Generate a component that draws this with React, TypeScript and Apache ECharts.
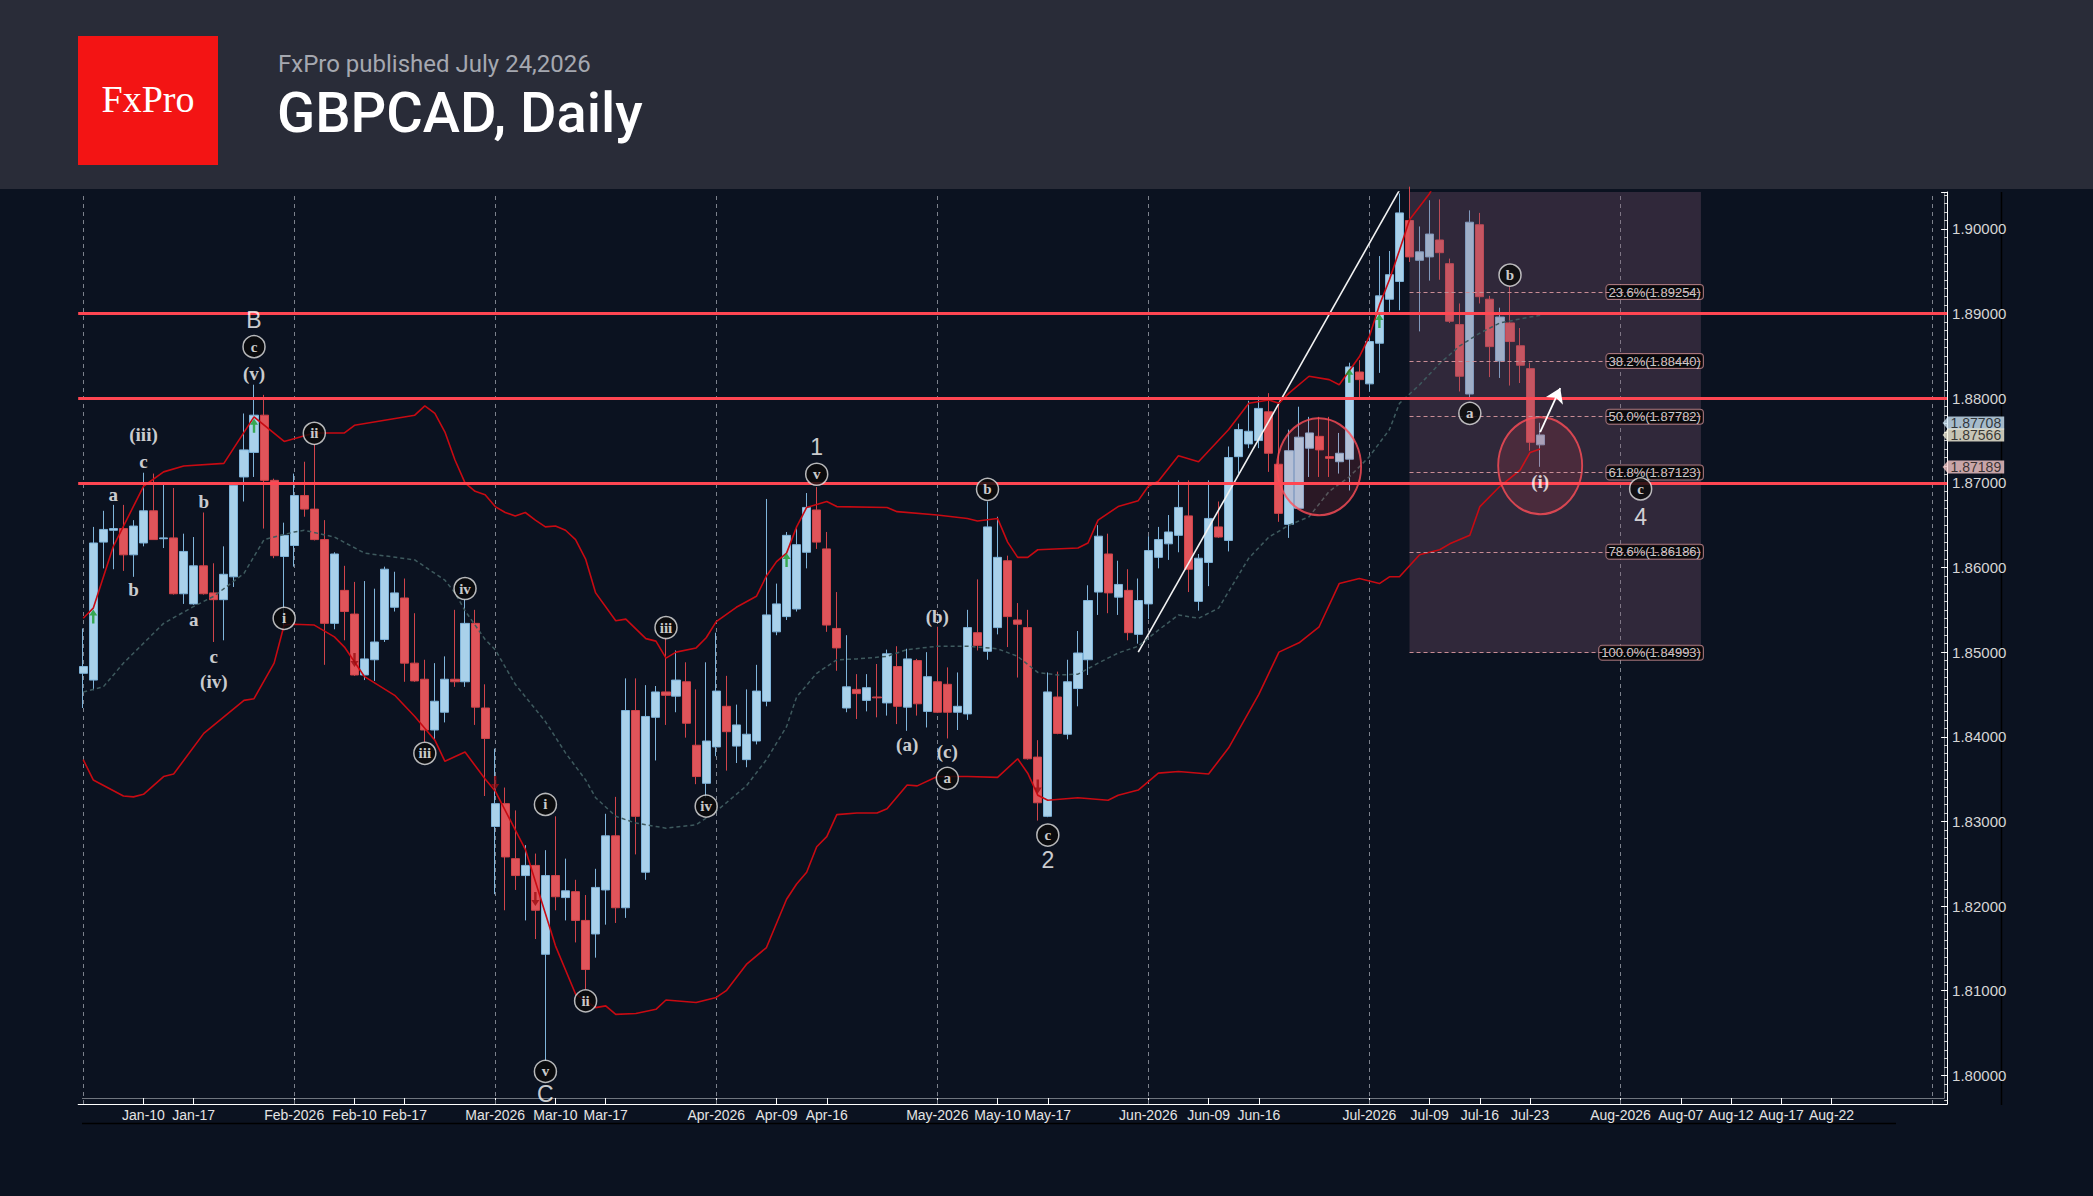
import React, { useEffect, useRef } from 'react';
import * as echarts from 'echarts';

// ---------- data ----------
const SLOT_COUNT = 186;
const categories: string[] = Array.from({ length: SLOT_COUNT }, (_, i) => String(i));

const opens = [
  1.8475, 1.8467, 1.8630, 1.8644, 1.8646, 1.8615, 1.8629, 1.8667, 1.8634, 1.8635,
  1.8569, 1.8557, 1.8602, 1.8570, 1.8562, 1.8589, 1.8707, 1.8736, 1.8780, 1.8703,
  1.8613, 1.8626, 1.8685, 1.8669, 1.8633, 1.8534, 1.8573, 1.8545, 1.8473, 1.8491,
  1.8515, 1.8553, 1.8564, 1.8487, 1.8468, 1.8408, 1.8429, 1.8468, 1.8465, 1.8534,
  1.8434, 1.8294, 1.8321, 1.8256, 1.8236, 1.8248, 1.8143, 1.8236, 1.8210, 1.8217,
  1.8183, 1.8167, 1.8219, 1.8283, 1.8198, 1.8431, 1.8240, 1.8423, 1.8453, 1.8448,
  1.8465, 1.8390, 1.8345, 1.8388, 1.8436, 1.8389, 1.8373, 1.8395, 1.8442, 1.8524,
  1.8542, 1.8551, 1.8618, 1.8668, 1.8622, 1.8528, 1.8434, 1.8456, 1.8443, 1.8447,
  1.8440, 1.8483, 1.8435, 1.8490, 1.8430, 1.8465, 1.8462, 1.8429, 1.8427, 1.8523,
  1.8501, 1.8529, 1.8608, 1.8538, 1.8529, 1.8376, 1.8306, 1.8447, 1.8403, 1.8457,
  1.8491, 1.8571, 1.8616, 1.8565, 1.8573, 1.8521, 1.8557, 1.8612, 1.8628, 1.8638,
  1.8661, 1.8560, 1.8606, 1.8648, 1.8632, 1.8731, 1.8746, 1.8750, 1.8784, 1.8722,
  1.8651, 1.8670, 1.8741, 1.8755, 1.8731, 1.8725, 1.8728, 1.8831, 1.8817, 1.8865,
  1.8917, 1.8938, 1.9010, 1.8963, 1.8967, 1.8987, 1.8959, 1.8887, 1.8805, 1.9005,
  1.8917, 1.8844, 1.8889, 1.8862, 1.8835, 1.8745,
];

const closes = [
  1.8483, 1.8629, 1.8645, 1.8646, 1.8615, 1.8649, 1.8667, 1.8633, 1.8635, 1.8569,
  1.8619, 1.8602, 1.8569, 1.8562, 1.8592, 1.8697, 1.8739, 1.8780, 1.8703, 1.8614,
  1.8638, 1.8685, 1.8669, 1.8633, 1.8534, 1.8616, 1.8548, 1.8473, 1.8492, 1.8512,
  1.8598, 1.8570, 1.8487, 1.8466, 1.8408, 1.8442, 1.8468, 1.8465, 1.8534, 1.8435,
  1.8398, 1.8321, 1.8258, 1.8236, 1.8248, 1.8195, 1.8236, 1.8211, 1.8218, 1.8183,
  1.8125, 1.8222, 1.8283, 1.8198, 1.8431, 1.8306, 1.8424, 1.8453, 1.8449, 1.8467,
  1.8416, 1.8353, 1.8395, 1.8454, 1.8406, 1.8414, 1.8403, 1.8454, 1.8544, 1.8557,
  1.8638, 1.8627, 1.8671, 1.8630, 1.8532, 1.8505, 1.8459, 1.8451, 1.8458, 1.8446,
  1.8498, 1.8436, 1.8492, 1.8439, 1.8471, 1.8429, 1.8429, 1.8436, 1.8529, 1.8508,
  1.8648, 1.8612, 1.8542, 1.8533, 1.8374, 1.8322, 1.8453, 1.8404, 1.8465, 1.8499,
  1.8561, 1.8637, 1.8570, 1.8580, 1.8523, 1.8561, 1.8620, 1.8633, 1.8642, 1.8671,
  1.8598, 1.8611, 1.8658, 1.8636, 1.8730, 1.8763, 1.8761, 1.8788, 1.8735, 1.8664,
  1.8738, 1.8754, 1.8759, 1.8739, 1.8729, 1.8735, 1.8837, 1.8822, 1.8867, 1.8921,
  1.8946, 1.9019, 1.8967, 1.8973, 1.8994, 1.8972, 1.8891, 1.8826, 1.9008, 1.8920,
  1.8861, 1.8896, 1.8867, 1.8839, 1.8748, 1.87566,
];

const highs = [
  1.8528, 1.8648, 1.8667, 1.8674, 1.8674, 1.8656, 1.8712, 1.8711, 1.8698, 1.8694,
  1.8640, 1.8636, 1.8665, 1.8605, 1.8625, 1.8698, 1.8782, 1.8816, 1.8804, 1.8705,
  1.8653, 1.8711, 1.8725, 1.8746, 1.8656, 1.8618, 1.8602, 1.8583, 1.8584, 1.8575,
  1.8601, 1.8595, 1.8587, 1.8546, 1.8491, 1.8487, 1.8495, 1.8550, 1.8562, 1.8550,
  1.8462, 1.8386, 1.8340, 1.8313, 1.8272, 1.8262, 1.8266, 1.8306, 1.8256, 1.8231,
  1.8213, 1.8244, 1.8309, 1.8329, 1.8469, 1.8469, 1.8461, 1.8460, 1.8517, 1.8502,
  1.8488, 1.8456, 1.8488, 1.8523, 1.8472, 1.8438, 1.8456, 1.8485, 1.8681, 1.8581,
  1.8642, 1.8648, 1.8688, 1.8695, 1.8642, 1.8571, 1.8520, 1.8474, 1.8474, 1.8486,
  1.8503, 1.8507, 1.8504, 1.8492, 1.8500, 1.8530, 1.8482, 1.8476, 1.8550, 1.8586,
  1.8678, 1.8660, 1.8614, 1.8558, 1.8550, 1.8396, 1.8476, 1.8477, 1.8491, 1.8525,
  1.8579, 1.8650, 1.8640, 1.8608, 1.8598, 1.8587, 1.8637, 1.8648, 1.8662, 1.8703,
  1.8703, 1.8616, 1.8703, 1.8678, 1.8743, 1.8770, 1.8797, 1.8802, 1.8806, 1.8794,
  1.8763, 1.8790, 1.8778, 1.8778, 1.8778, 1.8759, 1.8842, 1.8845, 1.8881, 1.8968,
  1.8974, 1.9042, 1.9050, 1.9003, 1.9034, 1.9035, 1.8965, 1.8912, 1.9022, 1.9019,
  1.8921, 1.8907, 1.8932, 1.8883, 1.8842, 1.8771,
];

const lows = [
  1.8434, 1.8455, 1.8599, 1.8598, 1.8596, 1.8589, 1.8625, 1.8633, 1.8623, 1.8568,
  1.8557, 1.8556, 1.8568, 1.8512, 1.8514, 1.8577, 1.8678, 1.8707, 1.8646, 1.8611,
  1.8528, 1.8601, 1.8660, 1.8632, 1.8485, 1.8527, 1.8514, 1.8472, 1.8467, 1.8466,
  1.8512, 1.8548, 1.8465, 1.8465, 1.8394, 1.8397, 1.8417, 1.8459, 1.8459, 1.8414,
  1.8330, 1.8214, 1.8195, 1.8219, 1.8183, 1.8161, 1.8017, 1.8195, 1.8183, 1.8157,
  1.8102, 1.8139, 1.8178, 1.8180, 1.8186, 1.8261, 1.8231, 1.8372, 1.8414, 1.8429,
  1.8399, 1.8344, 1.8328, 1.8377, 1.8360, 1.8369, 1.8364, 1.8391, 1.8436, 1.8520,
  1.8538, 1.8548, 1.8599, 1.8622, 1.8524, 1.8478, 1.8429, 1.8421, 1.8430, 1.8423,
  1.8425, 1.8415, 1.8407, 1.8425, 1.8411, 1.8428, 1.8398, 1.8408, 1.8420, 1.8502,
  1.8491, 1.8521, 1.8506, 1.8470, 1.8373, 1.8301, 1.8305, 1.8403, 1.8397, 1.8436,
  1.8473, 1.8544, 1.8546, 1.8544, 1.8514, 1.8510, 1.8539, 1.8599, 1.8609, 1.8618,
  1.8571, 1.8549, 1.8578, 1.8635, 1.8619, 1.8711, 1.8741, 1.8741, 1.8713, 1.8654,
  1.8635, 1.8669, 1.8707, 1.8707, 1.8707, 1.8711, 1.8691, 1.8798, 1.8808, 1.8830,
  1.8902, 1.8904, 1.8961, 1.8879, 1.8939, 1.8940, 1.8889, 1.8808, 1.8798, 1.8912,
  1.8825, 1.8824, 1.8815, 1.8818, 1.8738, 1.8719,
];

const tickSlots = [6, 11, 21, 27, 32, 41, 47, 52, 63, 69, 74, 85, 91, 96, 106, 112, 117, 128, 134, 139, 144, 153, 159, 164, 169, 174];
const tickLabels = ['Jan-10', 'Jan-17', 'Feb-2026', 'Feb-10', 'Feb-17', 'Mar-2026', 'Mar-10', 'Mar-17', 'Apr-2026', 'Apr-09', 'Apr-16', 'May-2026', 'May-10', 'May-17', 'Jun-2026', 'Jun-09', 'Jun-16', 'Jul-2026', 'Jul-09', 'Jul-16', 'Jul-23', 'Aug-2026', 'Aug-07', 'Aug-12', 'Aug-17', 'Aug-22'];
const separatorSlots = [-0.12, 21, 41, 63, 85, 106, 128, 153, 184];

// Bollinger bands: [slot, value]
const upperBand: [number, number][] = [
  [0, 1.8540], [1, 1.8552], [3, 1.8625], [6, 1.8696], [8, 1.8713], [10, 1.8720], [14, 1.8723], [17, 1.8778], [20, 1.8749], [23, 1.8759],
  [26, 1.8759], [27, 1.8768], [33, 1.8780], [34, 1.8791], [35, 1.8782], [36, 1.8760], [37, 1.8727], [38, 1.8700], [39, 1.8690], [40, 1.8686],
  [41, 1.8672], [42, 1.8665], [43, 1.8661], [44, 1.8665], [45, 1.8656], [46, 1.8648], [47, 1.8649], [48, 1.8644], [49, 1.8633], [50, 1.8610],
  [51, 1.8570], [53, 1.8537], [54, 1.8539], [56, 1.8516], [57, 1.8513], [58, 1.8493], [59, 1.8500], [61, 1.8505], [62, 1.8517], [63, 1.8536],
  [65, 1.8553], [67, 1.8566], [68, 1.8590], [69, 1.8607], [70, 1.8617], [71, 1.8648], [72, 1.8671], [74, 1.8678], [75, 1.8672], [80, 1.8671],
  [81, 1.8666], [85, 1.8662], [88, 1.8658], [89, 1.8655], [91, 1.8658], [92, 1.8630], [93, 1.8612], [94, 1.8612], [95, 1.8621], [99, 1.8623],
  [100, 1.8629], [101, 1.8656], [103, 1.8672], [105, 1.8679], [106, 1.8696], [107, 1.8702], [109, 1.8732], [111, 1.8725], [114, 1.8763], [116, 1.8794],
  [118, 1.8798], [119, 1.8794], [120, 1.8806], [122, 1.8826], [124, 1.8822], [125, 1.8816], [127, 1.8849], [128, 1.8873], [129, 1.8910], [130, 1.8940],
  [131, 1.8975], [132, 1.9011], [134, 1.9042], [135, 1.9065],
];
const middleBand: [number, number][] = [
  [0, 1.8453], [2, 1.8459], [4, 1.8487], [8, 1.8534], [11, 1.8554], [13, 1.8566], [16, 1.8593], [18, 1.8633], [21, 1.8642], [22, 1.8644],
  [25, 1.8636], [28, 1.8617], [33, 1.8609], [36, 1.8585], [37, 1.8570], [38, 1.8549], [40, 1.8515], [41, 1.8503], [43, 1.8462], [46, 1.8418],
  [48, 1.8381], [50, 1.8349], [51, 1.8328], [53, 1.8306], [55, 1.8298], [57, 1.8294], [58, 1.8292], [61, 1.8296], [63, 1.8312], [66, 1.8342],
  [68, 1.8373], [70, 1.8412], [71, 1.8447], [73, 1.8475], [75, 1.8491], [77, 1.8492], [80, 1.8495], [82, 1.8503], [85, 1.8507], [88, 1.8507],
  [91, 1.8504], [93, 1.8495], [95, 1.8476], [97, 1.8473], [99, 1.8474], [101, 1.8487], [103, 1.8499], [105, 1.8507], [107, 1.8526], [109, 1.8544],
  [111, 1.8540], [113, 1.8552], [116, 1.8611], [118, 1.8636], [120, 1.8650], [122, 1.8660], [124, 1.8690], [126, 1.8707], [128, 1.8731], [130, 1.8763],
  [131, 1.8794], [133, 1.8816], [135, 1.8841], [137, 1.8862], [139, 1.8877], [141, 1.8889], [144, 1.8896], [145, 1.8898],
];
const lowerBand: [number, number][] = [
  [0, 1.8373], [1, 1.8349], [4, 1.8330], [5, 1.8329], [6, 1.8332], [8, 1.8353], [9, 1.8356], [12, 1.8404], [16, 1.8443], [17, 1.8445],
  [19, 1.8487], [20, 1.8532], [21, 1.8533], [23, 1.8532], [25, 1.8518], [26, 1.8506], [28, 1.8471], [31, 1.8449], [33, 1.8424], [35, 1.8396],
  [36, 1.8371], [38, 1.8382], [40, 1.8350], [41, 1.8336], [44, 1.8267], [47, 1.8153], [49, 1.8096], [51, 1.8080], [52, 1.8082], [53, 1.8072],
  [55, 1.8073], [57, 1.8078], [58, 1.8089], [61, 1.8086], [63, 1.8092], [64, 1.8100], [66, 1.8131], [68, 1.8151], [70, 1.8208], [71, 1.8226],
  [72, 1.8240], [73, 1.8270], [74, 1.8282], [75, 1.8308], [77, 1.8310], [79, 1.8310], [80, 1.8315], [82, 1.8343], [83, 1.8342], [85, 1.8353],
  [88, 1.8353], [91, 1.8352], [93, 1.8374], [94, 1.8357], [95, 1.8331], [96, 1.8325], [99, 1.8328], [102, 1.8325], [103, 1.8331], [105, 1.8337],
  [107, 1.8357], [109, 1.8359], [112, 1.8356], [114, 1.8387], [117, 1.8450], [119, 1.8500], [121, 1.8511], [123, 1.8530], [125, 1.8581], [127, 1.8587],
  [129, 1.8581], [130, 1.8589], [131, 1.8589], [133, 1.8615], [135, 1.8621], [136, 1.8628], [138, 1.8638], [139, 1.8672], [141, 1.8696], [143, 1.8715],
  [144, 1.8736], [145, 1.8740],
];

const levelLines = [1.8898, 1.8807, 1.8722];

const fibStart = 131.75;
const fibEnd = 161.2;
const fibTop = 1.90437;
const fibLevels = [1.89254, 1.88440, 1.87782, 1.87123, 1.86186, 1.84993];
const fibNames = ['23.6%', '38.2%', '50.0%', '61.8%', '78.6%', '100.0%'];

const trendLine: [number, number][] = [[105, 1.8500], [131.2, 1.9046]];
const projectionArrow: [number, number][] = [[145, 1.8760], [146.6, 1.8812]];

const waveLabels: [number, number, string][] = [
  [17, 1.88295, '(v)'], [6, 1.87566, '(iii)'], [6, 1.87250, 'c'], [3, 1.86857, 'a'], [5, 1.85743, 'b'],
  [12, 1.86778, 'b'], [11, 1.85388, 'a'], [13, 1.84954, 'c'], [13, 1.84651, '(iv)'], [85, 1.85427, '(b)'],
  [82, 1.83903, '(a)'], [86, 1.83824, '(c)'], [145, 1.87014, '(i)'],
];
const circledLabels: [number, number, string][] = [
  [17, 1.88609, 'c'], [23, 1.87586, 'ii'], [20, 1.85400, 'i'], [38, 1.85752, 'iv'], [34, 1.83805, 'iii'],
  [46, 1.83200, 'i'], [50, 1.80880, 'ii'], [46, 1.80046, 'v'], [58, 1.85291, 'iii'], [62, 1.83180, 'iv'],
  [73, 1.87102, 'v'], [90, 1.86924, 'b'], [86, 1.83509, 'a'], [96, 1.82839, 'c'], [138, 1.87822, 'a'],
  [142, 1.89456, 'b'], [154.6, 1.86928, 'c'],
];
const degreeLabels: [number, number, string][] = [
  [17, 1.8892, 'B'], [73, 1.87428, '1'], [96, 1.82544, '2'], [154.6, 1.86601, '4'], [46, 1.79781, 'C'],
];
const upSignals: [number, number][] = [[1, 1.8542], [17, 1.87675], [70, 1.86089], [126, 1.88265], [129, 1.88913]];
const downSignals: [number, number][] = [[27, 1.84907], [41, 1.83454], [45, 1.82083], [95, 1.83413]];
const zones: [number, number][] = [[123.43, 1.87191], [144.55, 1.87203]];

const priceTags: [number, string][] = [[1.87708, '#cde6f6'], [1.87566, '#f6f2dc'], [1.87189, '#f7caca']];

// ---------- helpers ----------
const NARROW = "'Liberation Sans Narrow', 'Liberation Sans', Arial, sans-serif";
const SERIF = "'Liberation Serif', 'Times New Roman', serif";

function toSlots(points: [number, number][]) {
  const arr: (number | null)[] = new Array(SLOT_COUNT).fill(null);
  points.forEach(([s, v]) => { arr[s] = v; });
  return arr;
}

function buildOption(): any {
  const candleData = opens.map((o, i) => [o, closes[i], lows[i], highs[i]]);
  const tickMap: Record<number, string> = {};
  tickSlots.forEach((s, i) => { tickMap[s] = tickLabels[i]; });
  const showTick = (idx: number) => tickMap[idx] !== undefined;

  const GRID_LEFT = 78.18;
  const GRID_WIDTH = 1868.93;

  return {
    animation: false,
    backgroundColor: '#0b1220',
    grid: { left: GRID_LEFT, top: 192, width: GRID_WIDTH, height: 912, containLabel: false, outerBoundsMode: 'none' },
    xAxis: {
      type: 'category',
      data: categories,
      boundaryGap: true,
      axisLine: { show: true, lineStyle: { color: '#ffffff', width: 1 } },
      axisTick: { show: true, alignWithLabel: true, inside: true, length: 6, interval: showTick, lineStyle: { color: '#ffffff' } },
      axisLabel: {
        interval: showTick,
        formatter: (v: string) => tickMap[Number(v)] ?? '',
        color: '#e4e4e4', fontFamily: NARROW, fontSize: 14, margin: 4,
      },
      splitLine: { show: false },
    },
    yAxis: {
      type: 'value',
      position: 'right',
      min: 1.79661,
      max: fibTop,
      splitNumber: 10,
      axisLine: { show: true, lineStyle: { color: '#ffffff', width: 1 } },
      axisTick: { show: true, inside: true, length: 6, lineStyle: { color: '#ffffff' } },
      minorTick: { show: true, splitNumber: 10, length: 3, lineStyle: { color: '#cfcfcf' } },
      splitLine: { show: false },
      axisLabel: {
        showMinLabel: false, showMaxLabel: false,
        formatter: (v: number) => (Math.abs(v * 100 - Math.round(v * 100)) < 1e-6 ? v.toFixed(5) : ''),
        color: '#d6d6d6', fontFamily: NARROW, fontSize: 15, margin: 5,
      },
    },
    series: [
      {
        type: 'candlestick',
        name: 'GBPCAD',
        data: candleData,
        barWidth: 8.6,
        z: 2,
        clip: true,
        itemStyle: { color: '#a9d1ea', color0: '#e0545a', borderColor: '#7fb4da', borderColor0: '#d0444a', borderWidth: 1 },
        markLine: {
          silent: true, symbol: ['none', 'none'], z: 1, label: { show: false },
          lineStyle: { color: '#7c818c', type: [4, 4], width: 1 },
          data: separatorSlots.map((s) => ({ xAxis: s })),
        },
      },
      {
        type: 'line', name: 'upper', data: toSlots(upperBand), connectNulls: true, showSymbol: false, symbol: 'none',
        lineStyle: { color: '#c80a12', width: 1.6 }, z: 3, clip: true,
        markLine: {
          silent: true, symbol: ['none', 'none'], label: { show: false },
          lineStyle: { color: '#ff4652', width: 3, type: 'solid' },
          data: levelLines.map((v) => ({ yAxis: v })),
        },
      },
      {
        type: 'line', name: 'middle', data: toSlots(middleBand), connectNulls: true, showSymbol: false, symbol: 'none',
        lineStyle: { color: '#3e5a5e', width: 1.5, type: [4, 3] }, z: 3, clip: true,
      },
      {
        type: 'line', name: 'lower', data: toSlots(lowerBand), connectNulls: true, showSymbol: false, symbol: 'none',
        lineStyle: { color: '#c80a12', width: 1.6 }, z: 3, clip: true,
      },
      {
        type: 'scatter', name: 'fib', z: 3, symbolSize: 0, silent: true,
        data: fibLevels.map((l, i) => ({ value: [fibEnd, l], name: `${fibNames[i]}(${l.toFixed(5)})` })),
        label: {
          show: true, position: 'left', distance: -2, formatter: '{b}', color: '#ffffff', fontFamily: NARROW, fontSize: 13,
          backgroundColor: '#000000', borderColor: '#c78a8f', borderWidth: 1, borderRadius: 3, padding: [1, 2, 0, 2],
        },
        markArea: {
          silent: true, z: 3,
          itemStyle: { color: 'rgba(135, 92, 118, 0.30)' },
          data: [[{ coord: [fibStart, fibTop] }, { coord: [fibEnd, fibLevels[fibLevels.length - 1]] }]],
        },
        markLine: {
          silent: true, symbol: ['none', 'none'], label: { show: false },
          lineStyle: { color: '#c98d95', type: [4, 3], width: 1 },
          data: fibLevels.map((l) => [{ coord: [fibStart, l] }, { coord: [fibEnd, l] }]),
        },
      },
      {
        type: 'lines', name: 'trend', coordinateSystem: 'cartesian2d', z: 3, silent: true, clip: true,
        lineStyle: { color: '#f2f2f2', width: 1.6, opacity: 1 },
        data: [{ coords: trendLine }],
      },
      {
        type: 'lines', name: 'projection', coordinateSystem: 'cartesian2d', z: 5, silent: true,
        symbol: ['none', 'arrow'], symbolSize: 14,
        lineStyle: { color: '#ffffff', width: 1.8, opacity: 1 },
        data: [{ coords: projectionArrow }],
      },
      {
        type: 'scatter', name: 'zones', z: 4, silent: true, symbol: 'circle', symbolSize: [84, 97],
        itemStyle: { color: 'rgba(255, 70, 80, 0.16)', borderColor: '#ff4d57', borderWidth: 2 },
        data: zones,
      },
      {
        type: 'scatter', name: 'up', z: 5, silent: true,
        symbol: 'path://M5,0 L10,6 L6.5,6 L6.5,14 L3.5,14 L3.5,6 L0,6 Z', symbolSize: [8, 14],
        itemStyle: { color: '#1a9e2c' },
        data: upSignals,
      },
      {
        type: 'scatter', name: 'down', z: 5, silent: true,
        symbol: 'path://M3.5,0 L6.5,0 L6.5,8 L10,8 L5,14 L0,8 L3.5,8 Z', symbolSize: [8, 14],
        itemStyle: { color: '#9a0d12' },
        data: downSignals,
      },
      {
        type: 'scatter', name: 'waves', z: 6, silent: true, symbolSize: 1, itemStyle: { color: 'rgba(0,0,0,0)' },
        data: waveLabels.map(([s, p, t]) => ({ value: [s, p], name: t })),
        label: { show: true, position: 'inside', formatter: '{b}', color: '#ffffff', fontFamily: SERIF, fontWeight: 'bold', fontSize: 19 },
      },
      {
        type: 'scatter', name: 'circled', z: 6, silent: true, symbol: 'circle', symbolSize: 22,
        itemStyle: { color: '#0a0a0a', borderColor: '#e2e2e2', borderWidth: 1.5 },
        data: circledLabels.map(([s, p, t]) => ({ value: [s, p], name: t })),
        label: { show: true, position: 'inside', formatter: '{b}', color: '#ffffff', fontFamily: SERIF, fontWeight: 'bold', fontSize: 15 },
      },
      {
        type: 'scatter', name: 'degree', z: 6, silent: true, symbolSize: 1, itemStyle: { color: 'rgba(0,0,0,0)' },
        data: degreeLabels.map(([s, p, t]) => ({ value: [s, p], name: t })),
        label: { show: true, position: 'inside', formatter: '{b}', color: '#ffffff', fontFamily: NARROW, fontSize: 23 },
      },
      {
        type: 'scatter', name: 'tags', z: 7, silent: true,
        symbol: 'path://M0,5 L5,0 L5,10 Z', symbolSize: [5, 12], symbolOffset: [3, 0],
        data: priceTags.map(([p, c]) => ({
          value: [185.2, p],
          itemStyle: { color: c },
          label: { backgroundColor: c },
        })),
        label: {
          show: true, position: 'right', distance: 0,
          formatter: (prm: any) => prm.value[1].toFixed(5),
          color: '#111111', fontFamily: NARROW, fontSize: 14, padding: [0, 3, 0, 3], lineHeight: 13,
        },
      },
    ],
    graphic: [
      { type: 'rect', silent: true, shape: { x: 0, y: 0, width: 2093, height: 189 }, style: { fill: '#292c38' } },
      { type: 'rect', silent: true, shape: { x: 78, y: 36, width: 140, height: 129 }, style: { fill: '#f31414' } },
      { type: 'text', silent: true, x: 148, y: 99, style: { text: 'FxPro', fill: '#ffffff', fontSize: 38, fontFamily: SERIF, align: 'center', verticalAlign: 'middle' } },
      { type: 'text', silent: true, x: 278, y: 64, style: { text: 'FxPro published July 24,2026', fill: '#a5a8b0', fontSize: 24, fontFamily: 'Roboto', align: 'left', verticalAlign: 'middle' } },
      { type: 'text', silent: true, x: 277, y: 113, style: { text: 'GBPCAD, Daily', fill: '#ffffff', fontSize: 56, fontWeight: 500, fontFamily: 'Roboto', align: 'left', verticalAlign: 'middle' } },
      { type: 'line', silent: true, shape: { x1: 1944.5, y1: 192, x2: 1944.5, y2: 1098.5 }, style: { stroke: '#70757e', lineWidth: 1 } },
      { type: 'line', silent: true, shape: { x1: 82, y1: 1098.5, x2: 1944.5, y2: 1098.5 }, style: { stroke: '#70757e', lineWidth: 1 } },
      { type: 'line', silent: true, shape: { x1: 82, y1: 1123.5, x2: 1896, y2: 1123.5 }, style: { stroke: '#000000', lineWidth: 1.5 } },
      { type: 'line', silent: true, shape: { x1: 2001.5, y1: 192, x2: 2001.5, y2: 1105 }, style: { stroke: '#000000', lineWidth: 1.5 } },
    ],
  };
}

export default function App() {
  const ref = useRef<HTMLDivElement>(null);
  useEffect(() => {
    if (!ref.current) return;
    const chart = echarts.init(ref.current, null, { renderer: 'svg' });
    chart.setOption(buildOption());
    return () => chart.dispose();
  }, []);
  return <div ref={ref} style={{ position: 'fixed', left: 0, top: 0, width: 2093, height: 1196 }} />;
}
